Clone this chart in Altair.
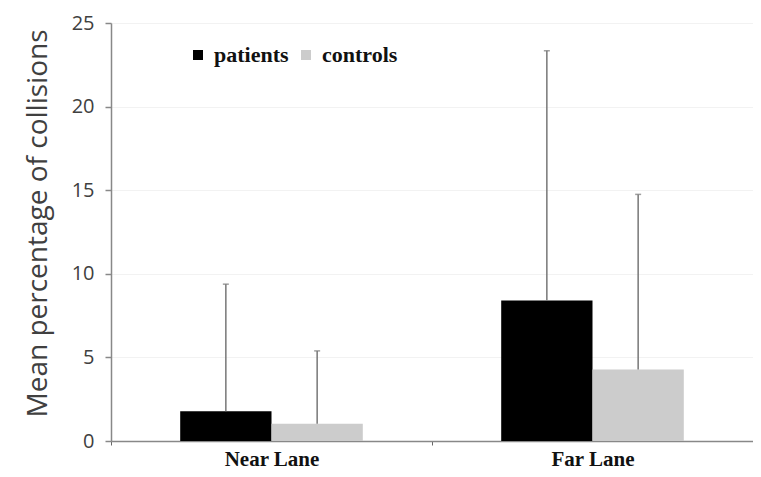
import altair as alt
import pandas as pd

lanes = ["Near Lane", "Near Lane", "Far Lane", "Far Lane"]
groups = ["patients", "controls", "patients", "controls"]
means = [1.78, 1.03, 8.40, 4.28]
uppers = [9.38, 5.39, 23.34, 14.75]

df = pd.DataFrame({"lane": lanes, "group": groups, "mean": means, "upper": uppers})

lane_order = ["Near Lane", "Far Lane"]
group_order = ["patients", "controls"]

x = alt.X("lane:N", sort=lane_order, title=None,
          scale=alt.Scale(paddingInner=0, paddingOuter=0),
          axis=alt.Axis(labelAngle=0, labelFont="Liberation Serif", labelFontWeight="bold",
                        labelFontSize=21, labelColor="#111111", labelPadding=3,
                        tickBand="extent", tickSize=4, tickColor="#666666",
                        domainColor="#888888", domainWidth=1.5))
xo = alt.XOffset("group:N", sort=group_order,
                 scale=alt.Scale(paddingInner=0, paddingOuter=0.758))

bars = alt.Chart(df).mark_bar().encode(
    x=x,
    xOffset=xo,
    y=alt.Y("mean:Q", title="Mean percentage of collisions",
            scale=alt.Scale(domain=[0, 25], nice=False),
            axis=alt.Axis(values=[0, 5, 10, 15, 20, 25], labelFont="Open Sans",
                          labelFontSize=20, labelColor="#404040", labelPadding=11,
                          tickSize=6, tickColor="#888888", tickWidth=1.5,
                          domainColor="#888888", domainWidth=1.5,
                          gridColor="#f2f2f2", gridWidth=1,
                          titleFont="Open Sans", titleFontSize=28, titleFontWeight="normal",
                          titleColor="#404040", titlePadding=19, titleY=200)),
    color=alt.Color("group:N", sort=group_order,
                    scale=alt.Scale(domain=group_order, range=["#000000", "#cccccc"]),
                    legend=alt.Legend(title=None, orient="none", legendX=76, legendY=21,
                                      direction="horizontal", symbolType="square",
                                      symbolSize=100, labelFont="Liberation Serif",
                                      labelFontWeight="bold", labelFontSize=22,
                                      labelColor="#111111", columnPadding=6,
                                      labelOffset=5, symbolStrokeWidth=0)),
)

rules = alt.Chart(df).mark_rule(color="#777777", strokeWidth=1.5).encode(
    x=alt.X("lane:N", sort=lane_order),
    xOffset=alt.XOffset("group:N", sort=group_order),
    y="mean:Q",
    y2="upper:Q",
)

caps = alt.Chart(df).mark_tick(color="#777777", thickness=1.5, size=6, orient="horizontal").encode(
    x=alt.X("lane:N", sort=lane_order),
    xOffset=alt.XOffset("group:N", sort=group_order),
    y="upper:Q",
)

chart = alt.layer(bars, rules, caps).properties(
    width=642, height=418,
    padding={"left": 103, "top": 15, "right": 0, "bottom": 28},
    autosize="none",
).configure_view(stroke=None).configure_axisY(grid=True).configure_axisX(grid=False)

chart.save("out.html", embed_options={"renderer": "svg", "actions": False})
